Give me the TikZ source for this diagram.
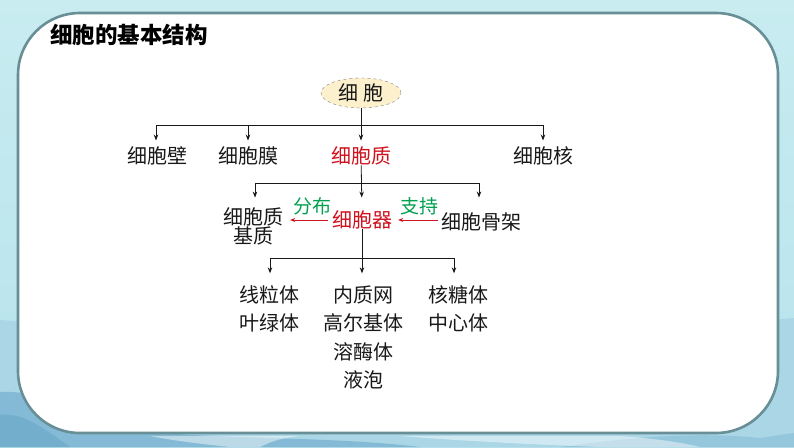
\documentclass[tikz,border=0pt]{standalone}
\usepackage{fontspec}
\setmainfont{Noto Sans CJK SC}
\usetikzlibrary{shapes.geometric,arrows.meta}
\definecolor{skytop}{RGB}{200,236,240}
\definecolor{skymid}{RGB}{182,226,236}
\definecolor{mtfar}{RGB}{170,214,230}
\definecolor{mtnear}{RGB}{128,184,212}
\definecolor{mtdark}{RGB}{104,166,200}
\definecolor{panelborder}{RGB}{104,142,150}
\definecolor{beige}{RGB}{252,240,205}
\definecolor{ored}{RGB}{206,18,30}
\definecolor{ogreen}{RGB}{0,160,80}
\definecolor{ink}{RGB}{25,25,25}
\begin{document}
\begin{tikzpicture}[x=1pt,y=-1pt,
  lbl/.style={font=\fontsize{20}{20}\selectfont, inner sep=0pt, align=center, text=ink},
  col/.style={font=\fontsize{20}{28.5}\selectfont, inner sep=0pt, align=center, text=ink},
  arr/.style={-{Stealth[length=6pt,width=4.5pt]}, line width=0.8pt, draw=ink},
  bus/.style={line width=0.8pt, draw=ink},
  redarr/.style={-{Stealth[length=5pt,width=4pt]}, line width=0.7pt, draw=ored}]
\useasboundingbox (0,0) rectangle (794,447);
% background
\shade[top color=skytop, bottom color=skymid] (0,0) rectangle (794,447);
\fill[mtfar] (0,320) .. controls (150,330) and (300,380) .. (400,420) .. controls (500,395) and (650,330) .. (794,318) -- (794,447) -- (0,447) -- cycle;
\fill[mtnear, opacity=0.9] (0,392) .. controls (40,390) and (80,410) .. (130,430) .. controls (220,440) and (330,436) .. (420,447) -- (0,447) -- cycle;
\fill[mtdark, opacity=0.6] (0,415) .. controls (20,412) and (40,425) .. (70,447) -- (0,447) -- cycle;
\fill[mtnear, opacity=0.5] (560,447) .. controls (640,436) and (700,432) .. (760,438) .. controls (775,436) and (785,434) .. (794,433) -- (794,447) -- cycle;
\fill[white, opacity=0.45] (150,436) .. controls (170,440) and (200,444) .. (230,447) -- (260,447) .. controls (270,442) and (280,438) .. (300,436) -- cycle;
\fill[white, opacity=0.45] (400,436) .. controls (450,440) and (520,444) .. (600,447) -- (700,447) .. controls (680,442) and (650,438) .. (620,436) -- cycle;
% panel
\draw[draw=panelborder, line width=2.6pt, fill=white, rounded corners=62pt] (18,13) rectangle (778,433);
% title
\node[font=\bfseries\fontsize{22.5}{22.5}\selectfont, inner sep=0pt, anchor=west] (title) at (50,35) {细胞的基本结构};
% root
\node[ellipse, draw=gray, dashed, fill=beige, minimum width=80pt, minimum height=30pt, inner sep=0pt, font=\fontsize{20}{20}\selectfont, text=ink] (cell) at (361,93) {细 胞};
% level 1
\node[lbl] (wall) at (157,156) {细胞壁};
\node[lbl] (memb) at (248,156) {细胞膜};
\node[lbl, text=ored] (cyto) at (361,156) {细胞质};
\node[lbl] (nucl) at (543,156) {细胞核};
\coordinate (h1L) at (156,125);
\coordinate (h1R) at (543,125);
\draw[bus] (h1L) -- (h1R);
\draw[arr, shorten >=6pt] (cell) -- (cyto.north);
\draw[arr, shorten >=6pt] (h1L) -- (wall.north -| h1L);
\draw[arr, shorten >=6pt] (h1L -| memb.north) -- (memb.north);
\draw[arr, shorten >=6pt] (h1R) -- (nucl.north);
% level 2
\node[lbl, font=\fontsize{20}{19}\selectfont] (matrix) at (253,226.5) {细胞质\\基质};
\node[lbl, text=ored] (org) at (362,220) {细胞器};
\node[lbl] (skel) at (481,222) {细胞骨架};
\node[font=\fontsize{19}{19}\selectfont, inner sep=0pt, text=ogreen] (distr) at (312,206) {分布};
\node[font=\fontsize{19}{19}\selectfont, inner sep=0pt, text=ogreen] (supp) at (419,206) {支持};
\coordinate (h2L) at (255,183);
\coordinate (h2R) at (479,183);
\draw[bus] (h2L) -- (h2R);
\draw[arr, shorten >=13pt] (cyto) -- (org.north);
\draw[arr, shorten >=10pt] (h2L) -- (h2L |- matrix.north);
\draw[arr, shorten >=15pt] (h2R) -- (h2R |- skel.north);
\draw[redarr, shorten <=4pt, shorten >=7pt] (org.west) -- (org.west -| matrix.east);
\draw[redarr, shorten <=3pt, shorten >=6pt] (org.east -| skel.west) -- (org.east);
% level 3
\node[col] (c1) at (269,309) {线粒体\\叶绿体};
\node[col] (c2) at (363,337.5) {内质网\\高尔基体\\溶酶体\\液泡};
\node[col] (c3) at (458,309) {核糖体\\中心体};
\coordinate (h3L) at (270,258);
\coordinate (h3R) at (454,258);
\draw[bus] (h3L) -- (h3R);
\draw[arr, shorten >=12pt] (org) -- (c2.north -| org);
\draw[arr, shorten >=12pt] (h3L) -- (h3L |- c1.north);
\draw[arr, shorten >=12pt] (h3R) -- (h3R |- c3.north);
\end{tikzpicture}
\end{document}
